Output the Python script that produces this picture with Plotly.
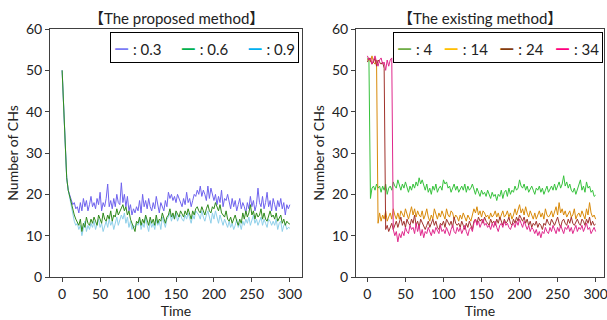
import plotly.graph_objects as go

time = list(range(0, 301, 2))

# Proposed method
p03 = [50, 41, 32, 24, 21, 20, 19, 17.5, 18, 16.5,
       17, 15.5, 18, 16, 19, 17, 18.5, 16, 17.5, 19.5,
       17, 18, 16.5, 19, 17.5, 20.5, 16, 18, 17, 19,
       22.5, 17, 18.5, 16.5, 19, 17, 20, 18, 17.5, 22.8,
       18, 20, 17, 19.5, 16, 17.5, 15, 16.5, 15.5, 17,
       16, 18.5, 15.5, 20, 17, 18.5, 16.5, 19, 17, 16,
       18, 16.5, 19.5, 17, 15.5, 18, 17, 16, 18.5, 17,
       20.5, 19, 20, 18.5, 19.5, 18, 20, 19, 18.5, 17,
       19, 17.5, 20.5, 18, 19, 17, 18.5, 20, 19.5, 21,
       20, 22, 19.5, 21, 20, 18.5, 22, 19, 21.5, 20,
       18.5, 20, 17.5, 19.5, 18, 21, 17, 19, 18.5, 20,
       18, 16.5, 19, 17, 18.5, 16, 17.5, 19, 16.5, 18,
       17, 15.5, 18, 16.5, 19.5, 17, 18.5, 16, 17.5, 21.5,
       18, 17, 19.5, 16.5, 18, 20.5, 17, 18.5, 16, 19,
       17.5, 16, 18.5, 17, 19, 16.5, 18, 15, 17.5, 16.5,
       17.5]
p06 = [50, 41, 32, 24, 21, 19.5, 18, 16, 15, 14,
       13, 12.5, 14, 11, 13, 12, 14.5, 13, 12.5, 14,
       13, 14.5, 13.5, 12.5, 15, 14, 13, 15.5, 14, 13.5,
       15, 14, 16, 13.5, 15, 14.5, 16.5, 15, 16, 17,
       17.5, 16, 17, 15, 16, 14, 13, 12, 11, 13.5,
       13, 14.5, 12.5, 14, 13, 15, 13.5, 12.5, 14.5, 13,
       14, 12.5, 15, 13, 14, 13.5, 15.5, 14, 13, 14.5,
       15, 16.5, 14.5, 15.5, 14, 16, 15, 14.5, 16, 15,
       14.5, 16, 15, 16.5, 15.5, 14, 16, 15, 16.5, 17,
       16, 15.5, 17, 16, 15, 16.5, 17.5, 16, 15.5, 17,
       16.5, 18, 17, 16, 17.5, 15.5, 15, 14.5, 16, 14,
       13.5, 14.5, 13, 14, 15, 13.5, 12.5, 14, 13, 15.5,
       14, 16, 14.5, 15.5, 17.5, 15, 16, 14, 15.5, 14.5,
       15, 16.5, 14, 15.5, 14, 13.5, 15, 16, 14.5, 15,
       14, 15.5, 13.5, 14.5, 15, 13, 14, 12.5, 13.5, 13,
       12.8]
p09 = [50, 41, 32, 24, 21, 19, 17, 15, 13.5, 12.5,
       13, 11.5, 12.5, 10, 12, 13.5, 11, 12.5, 11.5, 13,
       12, 13.5, 11.5, 12.5, 14, 12, 13, 11, 12.5, 13.5,
       12, 14, 12.5, 13.5, 11.5, 13, 14.5, 12.5, 13.5, 15,
       14, 15.5, 13, 14.5, 12, 13.5, 11.5, 12.5, 12, 13,
       12.5, 14, 11.5, 13, 12, 14.5, 12.5, 11, 13.5, 12,
       13, 11.5, 14, 12.5, 13.5, 11.5, 14.5, 13, 12, 14,
       14.5, 15.5, 13.5, 15, 14, 15.5, 13.5, 14.5, 15, 14,
       13.5, 15, 14, 15.5, 14.5, 13, 15, 14, 16, 15.5,
       15, 14, 16, 14.5, 13.5, 15, 16, 14.5, 13, 15.5,
       14, 16, 14.5, 13, 15, 13.5, 12.5, 14, 13, 12,
       13.5, 12, 13, 11.5, 12.5, 14, 12, 13, 11.5, 13.5,
       12.5, 14, 13, 14.5, 12.5, 13.5, 15, 13, 14, 12.5,
       13.5, 14.5, 12.5, 14, 13, 12, 14, 13.5, 12.5, 13.5,
       12.5, 14, 11.5, 13, 13.5, 11, 12.5, 13, 11.5, 12,
       11.8]

# Existing method
e4 = [53, 52.5, 19, 21.5, 22, 21, 22.5, 21.5, 22, 20.5,
      22, 21, 22.5, 20, 21.5, 22, 21, 23, 22, 21.5,
      23.5, 22, 21, 22.5, 21.5, 23, 22, 20.5, 22, 21,
      22.5, 21.5, 23, 22, 24, 22.5, 23.5, 22, 21, 22.5,
      20.5, 21.5, 20, 22, 21, 22.5, 20.5, 21.5, 22, 21,
      23.5, 22.5, 23, 21.5, 22, 20.5, 21.5, 22.5, 21, 22,
      20.5, 21.5, 22, 21, 22.5, 20.5, 22, 21, 21.5, 22.5,
      21, 20, 21.5, 20.5, 19.5, 21, 20, 20.5, 19.5, 21,
      20, 19, 20.5, 19.5, 20, 18.5, 20, 19.5, 21, 19,
      20.5, 21, 19.5, 21.5, 20, 21, 20.5, 22, 21, 21.5,
      23.5, 22, 21.5, 22.5, 21, 22, 20.5, 21.5, 22, 21,
      20, 21.5, 21, 22, 20.5, 21.5, 20, 21, 22, 20.5,
      21.5, 22, 21, 22.5, 21, 22, 23, 21.5, 22.5, 24.5,
      22, 23, 21.5, 22.5, 21, 20.5, 21.5, 20, 21, 22.5,
      23.5, 21, 22, 20.5, 23, 21.5, 22, 20.5, 21, 19.5,
      19.8]
e14 = [52.5, 53, 52, 53.5, 52, 51.5, 52.5, 13, 15.5, 13.5,
       15, 14, 16, 13.5, 14.5, 15.5, 14, 16.5, 15, 14,
       15.5, 14, 16, 15, 14.5, 16.5, 15, 14, 15.5, 17,
       15, 16.5, 14.5, 16, 15, 14.5, 16, 14, 15, 16.5,
       14.5, 13.5, 15, 14, 16.5, 15, 14, 15.5, 14.5, 16,
       15, 14, 16.5, 15, 14.5, 16, 15.5, 14, 15, 14.5,
       13.5, 15, 14, 15.5, 14.5, 13.5, 15, 14, 13.5, 15,
       16.5, 15.5, 17, 15, 16, 14.5, 16, 15.5, 14.5, 15,
       14, 15.5, 14.5, 15, 16, 14.5, 15.5, 14, 15, 16,
       14.5, 15, 16, 14.5, 15.5, 14, 15, 16.5, 15, 16,
       17.5, 15.5, 16.5, 15, 17, 15.5, 14.5, 16, 15, 14,
       15.5, 14, 15, 16, 14.5, 15.5, 14, 16.5, 15, 14.5,
       15, 16, 14.5, 15.5, 17, 15, 18, 15.5, 16.5, 15,
       16, 14.5, 15.5, 16, 14.5, 15, 16.5, 14, 15, 15.5,
       14.5, 16, 15, 14, 16.5, 15, 18, 15.5, 14.5, 15,
       14]
e24 = [52, 53, 52.5, 51.5, 52, 53, 51, 52.5, 52, 51.5,
       52, 50.5, 11.5, 12.5, 11, 12, 13, 11.5, 12.5, 13.5,
       12, 13, 14.5, 12.5, 13.5, 12, 14, 13, 12.5, 14,
       13, 15, 12.5, 13.5, 12, 14, 13, 12.5, 11.5, 12.5,
       13.5, 12, 13, 14, 12.5, 13.5, 12, 11.5, 13, 12.5,
       13.5, 12, 14, 13, 12.5, 13.5, 12, 14.5, 13, 12.5,
       13, 12, 13.5, 12.5, 11.5, 13, 12, 13.5, 12.5, 11.5,
       13.5, 14, 13, 14.5, 13.5, 14, 13, 14.5, 13.5, 13,
       12.5, 14, 13, 13.5, 12.5, 14, 13, 14.5, 13.5, 12.5,
       14, 13, 13.5, 14.5, 13, 12.5, 14, 13, 14.5, 13.5,
       15, 14, 13.5, 14.5, 13, 14, 12.5, 13.5, 12, 13,
       12.5, 13.5, 12, 13, 12.5, 11.5, 13, 12.5, 14, 13,
       12.5, 14, 13, 12.5, 13.5, 14.5, 13, 12, 13.5, 14,
       13, 12.5, 14, 13, 14.5, 13, 12.5, 13.5, 14, 13,
       12.5, 14, 13.5, 12.5, 14, 13, 14.5, 12.5, 13.5, 12.5,
       12.8]
e34 = [53.5, 52.5, 53, 51.5, 52.5, 53.5, 52, 51, 52.5, 53,
       51.5, 52, 50, 52.5, 51, 52.5, 53, 11.5, 10, 11,
       8.5, 10.5, 9.5, 11, 10, 12, 11, 10.5, 12.5, 11.5,
       12, 10.5, 13, 11, 12.5, 10, 11.5, 9.5, 11, 10.5,
       12, 11, 10, 11.5, 10.5, 12, 11, 10.5, 12.5, 11,
       11.5, 10.5, 12, 11, 10, 11.5, 12.5, 11, 10.5, 12,
       11, 12, 10.5, 11.5, 12.5, 11, 10, 11.5, 12, 11,
       13, 14, 12.5, 13.5, 12, 13, 14, 12.5, 13, 12,
       12.5, 11.5, 13, 12, 13.5, 12, 11, 12.5, 13, 12,
       13.5, 12.5, 13, 12, 11.5, 12.5, 13, 12, 13.5, 12.5,
       14, 13, 12, 13.5, 12.5, 11.5, 12.5, 11, 12, 11.5,
       10.5, 11.5, 10, 11, 9.5, 11, 10.5, 12, 11, 10.5,
       12, 11, 12.5, 11.5, 10.5, 12, 11, 12.5, 11.5, 10.5,
       12, 11.5, 12.5, 11, 12, 10.5, 11.5, 12.5, 11, 12,
       11.5, 12.5, 11, 12, 13, 11.5, 12, 10.5, 11.5, 12,
       11]

for s in (p03, p06, p09, e4, e14, e24, e34):
    assert len(s) == len(time), len(s)

left_names = [": 0.3", ": 0.6", ": 0.9"]
right_names = [": 4", ": 14", ": 24", ": 34"]

FONT = "Lato, 'Noto Sans CJK JP', sans-serif"

fig = go.Figure()

left_series = [p03, p09, p06]
left_line_cols = ["#6f63ee", "#8fd0ea", "#2f8a1c"]
for s, c in zip(left_series, left_line_cols):
    fig.add_trace(go.Scatter(x=time, y=s, mode="lines", line=dict(color=c, width=1),
                             showlegend=False, xaxis="x", yaxis="y"))

right_series = [e4, e14, e24, e34]
right_line_cols = ["#36c23c", "#d98a0a", "#a0322c", "#e0288c"]
for s, c in zip(right_series, right_line_cols):
    fig.add_trace(go.Scatter(x=time, y=s, mode="lines", line=dict(color=c, width=1),
                             showlegend=False, xaxis="x2", yaxis="y2"))

left_leg_cols = ["#7b7bf5", "#00b050", "#00b0f0"]
right_leg_cols = ["#70ad47", "#ffc000", "#843c0c", "#ff0080"]

def legend_text(names, cols, gap):
    parts = [f"<span style='color:{c};font-size:19px'><b>—</b></span>&nbsp;{n}"
             for n, c in zip(names, cols)]
    return ("&nbsp;" * gap).join(parts)

W, H = 607, 320
def px(x):
    return x / W
def py(y):
    return (H - y) / H

axis_common = dict(showgrid=False, zeroline=False, showline=True, linecolor="#404040",
                   linewidth=1, mirror=True, ticks="outside", ticklen=4, automargin=False,
                   ticklabeloverflow="allow",
                   tickcolor="#404040", tickfont=dict(family=FONT, size=14, color="#222"))

fig.update_layout(
    width=W, height=H, autosize=False,
    margin=dict(l=0, r=0, t=0, b=0, pad=0),
    paper_bgcolor="white", plot_bgcolor="white",
    font=dict(family=FONT, color="#222"),
    showlegend=False,
    xaxis=dict(domain=[px(50), px(302)], range=[-16, 316], tickvals=[0, 50, 100, 150, 200, 250, 300],
               title=dict(text="Time", font=dict(family=FONT, size=14), standoff=1), anchor="y",
               **axis_common),
    yaxis=dict(domain=[py(277), py(29)], range=[0, 60], dtick=10, anchor="x",
               title=dict(text="Number of CHs", font=dict(family=FONT, size=14), standoff=4),
               **axis_common),
    xaxis2=dict(domain=[px(356), px(604)], range=[-15, 311], tickvals=[0, 50, 100, 150, 200, 250, 300],
                title=dict(text="Time", font=dict(family=FONT, size=14), standoff=1), anchor="y2",
                **axis_common),
    yaxis2=dict(domain=[py(277), py(29)], range=[0, 60], dtick=10, anchor="x2",
                title=dict(text="Number of CHs", font=dict(family=FONT, size=14), standoff=4),
                **axis_common),
    annotations=[
        dict(text="【The proposed method】", x=px(176), y=py(18), xref="paper", yref="paper",
             xanchor="center", yanchor="middle",
             showarrow=False, font=dict(family=FONT, size=15, color="#222")),
        dict(text="【The existing method】", x=px(480), y=py(18), xref="paper", yref="paper",
             xanchor="center", yanchor="middle",
             showarrow=False, font=dict(family=FONT, size=15, color="#222")),
        dict(text=legend_text(left_names, left_leg_cols, 5), x=px(299), y=py(32),
             xref="paper", yref="paper", xanchor="right", yanchor="top", showarrow=False,
             bordercolor="black", borderwidth=1, borderpad=3, bgcolor="white",
             font=dict(family=FONT, size=15, color="#222")),
        dict(text=legend_text(right_names, right_leg_cols, 3), x=px(603), y=py(32),
             xref="paper", yref="paper", xanchor="right", yanchor="top", showarrow=False,
             bordercolor="black", borderwidth=1, borderpad=3, bgcolor="white",
             font=dict(family=FONT, size=15, color="#222")),
    ],
)

fig.write_html("out.html", post_script="document.body.style.margin='0';",
               config={"displayModeBar": False})
